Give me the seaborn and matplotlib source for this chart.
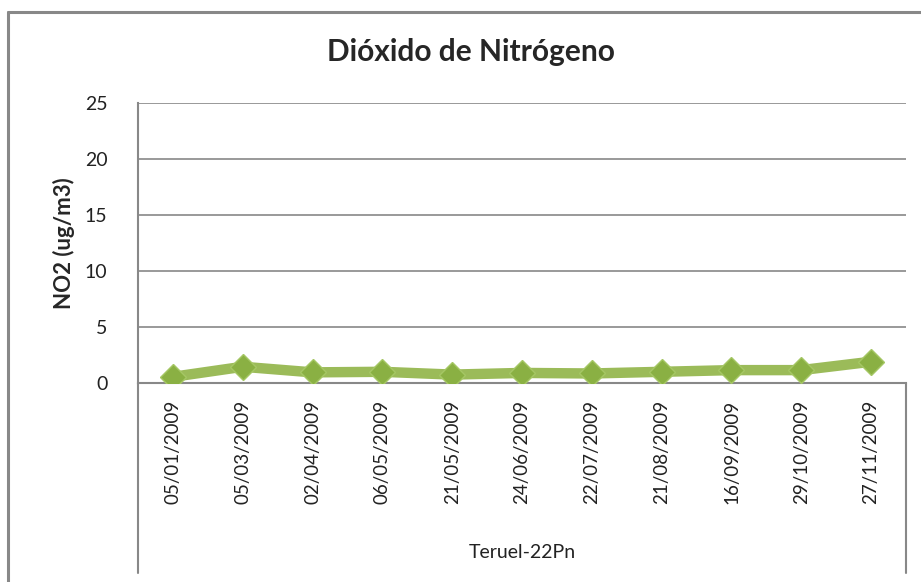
import matplotlib
matplotlib.use("Agg")
import matplotlib.pyplot as plt
import pandas as pd
import seaborn as sns
from matplotlib.lines import Line2D

# data
dates = [
    "05/01/2009", "05/03/2009", "02/04/2009", "06/05/2009", "21/05/2009",
    "24/06/2009", "22/07/2009", "21/08/2009", "16/09/2009", "29/10/2009",
    "27/11/2009",
]
no2_values = [0.55, 1.45, 0.95, 1.0, 0.75, 0.9, 0.85, 1.0, 1.15, 1.15, 1.9]
station = "Teruel-22Pn"
y_ticks = [0, 5, 10, 15, 20, 25]

df = pd.DataFrame({"fecha": dates, "no2": no2_values})
df["pos"] = range(len(df))

sns.set_style("white")
plt.rcParams["font.family"] = ["Lato", "DejaVu Sans"]

W, H = 921, 582
fig = plt.figure(figsize=(W / 100, H / 100), dpi=100)

# plot area in pixel coords of the reference
left, right, top, bottom = 138, 906, 103, 383
ax = fig.add_axes([left / W, 1 - bottom / H, (right - left) / W, (bottom - top) / H])

green = "#9BBB59"
sns.lineplot(
    data=df,
    x="pos",
    y="no2",
    ax=ax,
    color=green,
    linewidth=7.5,
    marker="D",
    markersize=13,
    markerfacecolor="#8AB043",
    markeredgecolor="#A5C764",
    markeredgewidth=1,
    solid_capstyle="round",
    zorder=3,
)

ax.set_xlim(-0.5, len(dates) - 0.5)
ax.set_ylim(0, 25)
ax.set_yticks(y_ticks)
ax.set_yticklabels([str(v) for v in y_ticks], fontsize=14, color="#222222")
ax.set_xticks(df["pos"])
ax.set_xticklabels(dates, rotation=90, fontsize=13.5, color="#222222")
ax.tick_params(axis="x", length=0, pad=12)
ax.tick_params(axis="y", length=0, pad=22)

ax.grid(axis="y", color="#888888", linewidth=1.2)
ax.set_axisbelow(True)
for side in ["top", "right"]:
    ax.spines[side].set_visible(False)
for side in ["left", "bottom"]:
    ax.spines[side].set_color("#888888")
    ax.spines[side].set_linewidth(1.5)

ax.set_xlabel("")
ax.set_ylabel("NO2 (ug/m3)", fontsize=16, fontweight="bold", labelpad=7)

# category axis extension lines
for xa in [0, 1]:
    ax.plot([xa, xa], [0, -(573 - bottom) / (bottom - top)], transform=ax.transAxes,
            color="#888888", linewidth=1.5, clip_on=False)

ax.text(0.5, -(553 - bottom) / (bottom - top), station, transform=ax.transAxes,
        ha="center", va="center", fontsize=14, color="#222222")

fig.suptitle("Dióxido de Nitrógeno", x=471 / W, y=1 - 52 / H,
             fontsize=21.5, fontweight="bold", va="center")

# outer chart border
fig.add_artist(Line2D([8 / W, 8 / W], [0, 1 - 12 / H], color="#888888", linewidth=2.2))
fig.add_artist(Line2D([8 / W, 1], [1 - 12 / H, 1 - 12 / H], color="#888888", linewidth=2.2))

fig.savefig("out.png", dpi=100)
